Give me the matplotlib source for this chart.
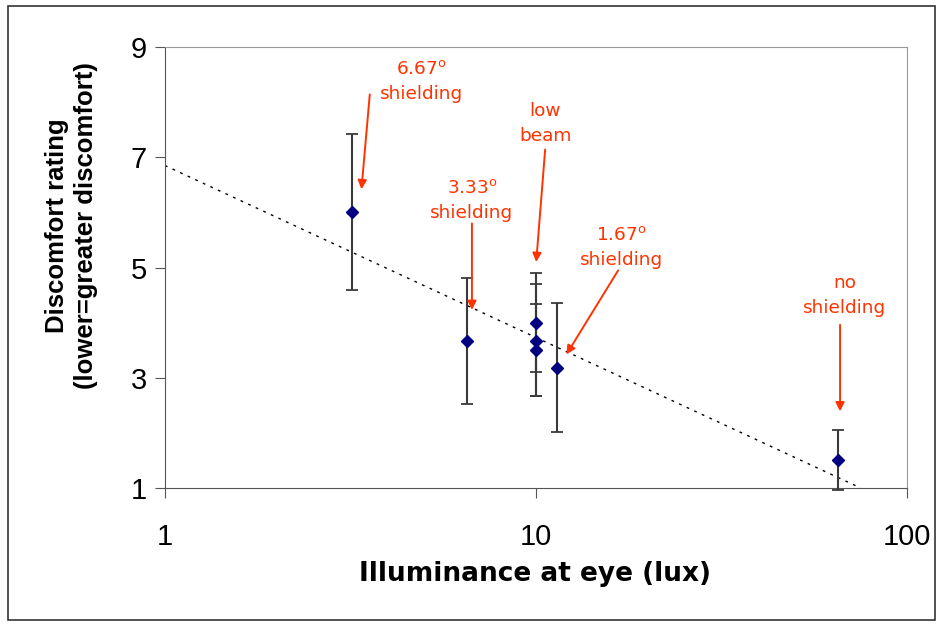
import matplotlib.pyplot as plt
from matplotlib.patches import Rectangle

# data
illum = [3.2, 6.5, 10.0, 10.0, 10.0, 11.4, 65.0]
rating = [6.0, 3.67, 4.0, 3.67, 3.5, 3.17, 1.5]
err_hi = [7.42, 4.81, 4.9, 4.7, 4.34, 4.36, 2.05]
err_lo = [4.6, 2.52, 3.1, 2.66, 2.66, 2.02, 0.97]

trend_x = [1, 75]
trend_y = [6.85, 1.0]

labels = ['6.67$^{\\mathrm{o}}$\nshielding', 'low\nbeam', '3.33$^{\\mathrm{o}}$\nshielding',
          '1.67$^{\\mathrm{o}}$\nshielding', 'no\nshielding']
label_xy = [(4.9, 8.38), (10.6, 7.62), (6.72, 6.22), (17.0, 5.37), (68.0, 4.5)]
arrow_from = [(3.57, 8.19), (10.6, 7.19), (6.72, 5.85), (16.8, 4.99), (66.0, 4.01)]
arrow_to = [(3.38, 6.37), (10.0, 5.05), (6.72, 4.18), (11.97, 3.38), (66.0, 2.34)]

fig = plt.figure(figsize=(9.4, 6.27), dpi=100)
fig.patches.append(Rectangle((0.008, 0.011), 0.987, 0.98, transform=fig.transFigure,
                             fill=False, edgecolor='#333333', linewidth=1.2))
ax = fig.add_axes([0.1755, 0.2217, 0.7894, 0.7033])

ax.plot(trend_x, trend_y, color='black', linestyle=(0, (2, 4)), linewidth=1.0)

yerr = [[r - lo for r, lo in zip(rating, err_lo)], [hi - r for r, hi in zip(rating, err_hi)]]
ax.errorbar(illum, rating, yerr=yerr, fmt='D', color='#000080', markersize=6,
            ecolor='#3a3a3a', elinewidth=1.5, capsize=4.5, capthick=1.3, clip_on=False, zorder=3)

red = '#FF3300'
for txt, (tx, ty), p0, p1 in zip(labels, label_xy, arrow_from, arrow_to):
    ax.text(tx, ty, txt, color=red, fontsize=13.3, ha='center', va='center', linespacing=1.5)
    ax.annotate('', xy=p1, xytext=p0,
                arrowprops=dict(arrowstyle='-|>', color=red, lw=1.4, mutation_scale=13))

ax.set_xscale('log')
ax.set_xlim(1, 100)
ax.set_ylim(1, 9)
ax.set_xticks([1, 10, 100])
ax.set_xticklabels(['1', '10', '100'])
ax.minorticks_off()
ax.set_yticks([1, 3, 5, 7, 9])
ax.tick_params(axis='both', labelsize=21, direction='out', length=7, color='#555555', pad=6)
ax.tick_params(axis='x', pad=18)
for tl in ax.get_xticklabels() + ax.get_yticklabels():
    tl.set_fontfamily('Liberation Sans')

for s in ['left', 'bottom']:
    ax.spines[s].set_color('#555555')
for s in ['top', 'right']:
    ax.spines[s].set_color('#999999')

ax.set_xlabel('Illuminance at eye (lux)', fontsize=19, fontweight='bold',
              fontfamily='DejaVu Sans')
ax.xaxis.set_label_coords(0.499, -0.165)
ax.set_ylabel('Discomfort rating\n(lower=greater discomfort)', fontsize=18.5, fontweight='bold',
              fontfamily='Liberation Sans', linespacing=1.25)
ax.yaxis.set_label_coords(-0.09, 0.595)

fig.savefig('out.png', dpi=100)
